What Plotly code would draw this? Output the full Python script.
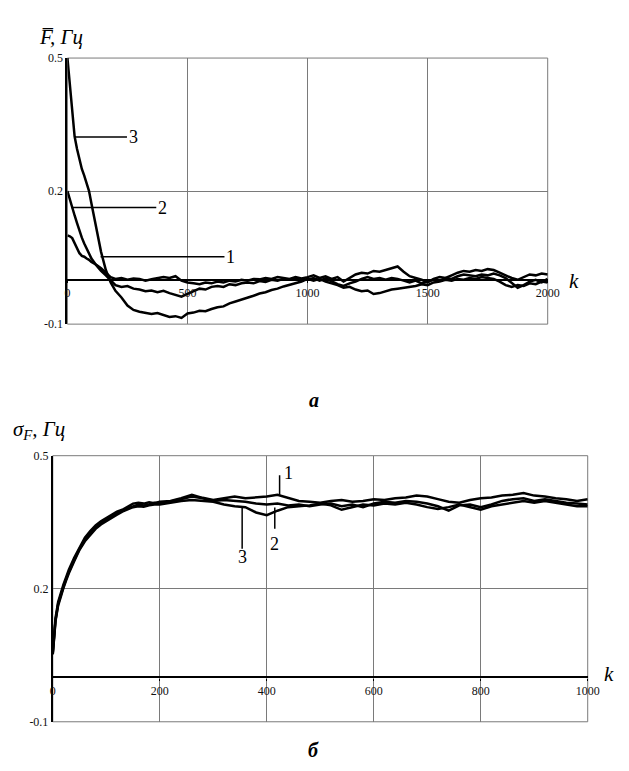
import plotly.graph_objects as go

# ---------------- data: top panel (mean frequency) ----------------
k_top = [0, 10, 20, 30, 40, 50, 60, 70, 80, 90, 100, 120, 140, 160, 180,
         200, 225, 250, 275, 300, 325, 350, 375, 400, 425, 450, 475, 500, 525, 550, 575,
         600, 625, 650, 675, 700, 725, 750, 775, 800, 825, 850, 875, 900, 925, 950, 975,
         1000, 1025, 1050, 1075, 1100, 1125, 1150, 1175, 1200, 1225, 1250, 1275, 1300, 1325,
         1350, 1375, 1400, 1425, 1450, 1475, 1500, 1525, 1550, 1575, 1600, 1625, 1650, 1675,
         1700, 1725, 1750, 1775, 1800, 1825, 1850, 1875, 1900, 1925, 1950, 1975, 2000]

F_mean_1 = [0.100, 0.098, 0.094, 0.082, 0.070, 0.060, 0.054, 0.052, 0.048, 0.045, 0.040, 0.034, 0.026, 0.016, 0.006,
            0.002, 0.004, 0.000, 0.003, 0.002, -0.002, 0.001, 0.003, 0.006, 0.004, 0.008, -0.002, -0.006, -0.008, -0.010, -0.006,
            -0.008, -0.004, -0.006, -0.002, -0.004, 0.000, -0.002, 0.002, 0.001, 0.004, 0.002, 0.006, 0.004, 0.002, 0.006, 0.003,
            0.006, 0.010, 0.004, 0.008, 0.002, 0.006, -0.004, 0.004, 0.012, 0.016, 0.014, 0.020, 0.018, 0.022,
            0.026, 0.030, 0.018, 0.008, 0.004, 0.000, -0.006, 0.002, 0.006, 0.004, 0.010, 0.016, 0.020, 0.018,
            0.022, 0.020, 0.024, 0.022, 0.016, 0.010, 0.004, 0.000, 0.006, 0.012, 0.010, 0.014, 0.012]

F_mean_2 = [0.200, 0.180, 0.160, 0.145, 0.128, 0.110, 0.095, 0.082, 0.070, 0.058, 0.048, 0.033, 0.020, 0.010, 0.000,
            -0.012, -0.016, -0.014, -0.020, -0.022, -0.026, -0.024, -0.028, -0.025, -0.030, -0.034, -0.038, -0.032, -0.026, -0.020, -0.022,
            -0.016, -0.014, -0.016, -0.010, -0.012, -0.008, -0.006, -0.008, -0.003, -0.005, 0.000, -0.002, 0.002, 0.000, 0.004, 0.001,
            0.000, 0.004, -0.002, 0.003, -0.004, -0.010, -0.014, -0.008, -0.004, 0.002, 0.006, 0.002, 0.004, 0.000,
            0.004, 0.002, -0.002, -0.006, -0.002, -0.008, -0.004, 0.000, -0.002, 0.004, 0.002, 0.008, 0.012, 0.010,
            0.008, 0.012, 0.010, 0.014, 0.010, 0.004, -0.008, -0.018, -0.012, -0.004, 0.000, -0.006, 0.002]

F_mean_3 = [0.500, 0.445, 0.380, 0.323, 0.295, 0.270, 0.250, 0.235, 0.218, 0.200, 0.172, 0.118, 0.063, 0.022, -0.006,
            -0.025, -0.040, -0.058, -0.068, -0.072, -0.074, -0.077, -0.075, -0.080, -0.084, -0.082, -0.086, -0.076, -0.074, -0.070, -0.071,
            -0.066, -0.062, -0.060, -0.053, -0.049, -0.045, -0.040, -0.036, -0.031, -0.028, -0.023, -0.020, -0.015, -0.011, -0.007, -0.004,
            0.002, -0.002, 0.002, -0.004, -0.008, -0.012, -0.018, -0.016, -0.022, -0.026, -0.024, -0.032, -0.030, -0.026,
            -0.022, -0.020, -0.018, -0.016, -0.014, -0.010, -0.012, -0.006, -0.004, 0.000, -0.002, 0.002, 0.000, 0.004,
            0.002, 0.006, 0.004, 0.002, -0.004, -0.012, -0.016, -0.012, -0.014, -0.008, -0.010, -0.004, -0.006]

# ---------------- data: bottom panel (std of frequency) ----------------
k_bot = [0, 2, 5, 10, 15, 20, 25, 30,
         40, 50, 60, 70, 80, 90, 100, 110, 120, 130, 140, 150, 160, 170, 180, 190, 200,
         220, 240, 260, 280, 300, 320, 340, 360, 380, 400, 420, 440, 460, 480, 500, 520, 540, 560, 580, 600,
         620, 640, 660, 680, 700, 720, 740, 760, 780, 800, 820, 840, 860, 880, 900, 920, 940, 960, 980, 1000]

S_1 = [0.057, 0.098, 0.133, 0.170, 0.193, 0.210, 0.226, 0.243,
       0.270, 0.294, 0.315, 0.330, 0.343, 0.352, 0.360, 0.368, 0.374, 0.378, 0.386, 0.392, 0.394, 0.392, 0.395, 0.393, 0.396,
       0.398, 0.404, 0.412, 0.405, 0.400, 0.404, 0.408, 0.404, 0.406, 0.408, 0.412, 0.405, 0.398, 0.396, 0.394, 0.398, 0.400, 0.396, 0.398, 0.402,
       0.400, 0.404, 0.406, 0.410, 0.408, 0.402, 0.396, 0.394, 0.400, 0.404, 0.406, 0.410, 0.412, 0.416, 0.410, 0.408, 0.404, 0.402, 0.398, 0.402]

S_2 = [0.055, 0.093, 0.128, 0.166, 0.188, 0.205, 0.222, 0.238,
       0.265, 0.290, 0.310, 0.326, 0.337, 0.348, 0.356, 0.363, 0.370, 0.376, 0.381, 0.386, 0.390, 0.388, 0.390, 0.394, 0.392,
       0.396, 0.402, 0.408, 0.404, 0.398, 0.400, 0.398, 0.396, 0.392, 0.390, 0.392, 0.388, 0.390, 0.386, 0.390, 0.392, 0.386, 0.390, 0.384, 0.392,
       0.396, 0.394, 0.398, 0.396, 0.392, 0.386, 0.376, 0.388, 0.390, 0.384, 0.390, 0.398, 0.402, 0.404, 0.398, 0.402, 0.398, 0.394, 0.392, 0.390]

S_3 = [0.052, 0.090, 0.126, 0.162, 0.185, 0.202, 0.219, 0.235,
       0.262, 0.288, 0.307, 0.322, 0.335, 0.345, 0.353, 0.361, 0.367, 0.374, 0.379, 0.384, 0.386, 0.385, 0.388, 0.390, 0.390,
       0.394, 0.398, 0.400, 0.398, 0.396, 0.390, 0.386, 0.384, 0.372, 0.366, 0.376, 0.384, 0.386, 0.388, 0.392, 0.388, 0.378, 0.384, 0.390, 0.388,
       0.392, 0.390, 0.394, 0.390, 0.384, 0.380, 0.384, 0.390, 0.384, 0.378, 0.386, 0.390, 0.394, 0.398, 0.394, 0.398, 0.394, 0.390, 0.386, 0.386]

# ---------------- ticks / labels ----------------
top_x_ticks = [0, 500, 1000, 1500, 2000]
bot_x_ticks = [0, 200, 400, 600, 800, 1000]
y_ticks = [-0.1, 0.2, 0.5]
y_tick_text = ["-0.1", "0.2", "0.5"]
curve_labels = ["1", "2", "3"]

# leader-line anchors (data coords) for the curve numbers
top_leaders = [  # (k_start, k_end, value)
    (138, 654, 0.052),
    (16, 370, 0.163),
    (28, 248, 0.322),
]
bot_leaders = [  # (k, v_start, v_end, v_text)
    (424, 0.412, 0.456, 0.462),
    (415, 0.383, 0.335, 0.302),
    (354, 0.386, 0.290, 0.272),
]

W, H = 629, 771
GRID = "#7a7a7a"
SERIF = "Liberation Serif"

fig = go.Figure()
for ys in (F_mean_1, F_mean_2, F_mean_3):
    fig.add_trace(go.Scatter(x=k_top, y=ys, mode="lines", xaxis="x", yaxis="y",
                             line=dict(color="black", width=2.5), hoverinfo="skip"))
for ys in (S_1, S_2, S_3):
    fig.add_trace(go.Scatter(x=k_bot, y=ys, mode="lines", xaxis="x2", yaxis="y2",
                             line=dict(color="black", width=2.5), hoverinfo="skip"))
# empty traces so the tick-label axes placed on the zero lines get subplots
fig.add_trace(go.Scatter(x=[], y=[], xaxis="x3", yaxis="y", hoverinfo="skip"))
fig.add_trace(go.Scatter(x=[], y=[], xaxis="x4", yaxis="y2", hoverinfo="skip"))

def px_x(p):
    return p / W

def px_y(p):
    return 1 - p / H

tickfont = dict(family=SERIF, size=12, color="#111111")

common_x = dict(showticklabels=False, showgrid=True, gridcolor=GRID, gridwidth=1,
                zeroline=False, showline=False, ticks="", fixedrange=True)
common_y = dict(tickmode="array", tickvals=y_ticks, ticktext=y_tick_text, range=[-0.1, 0.5],
                showgrid=True, gridcolor=GRID, gridwidth=1, zeroline=True, zerolinecolor="black",
                zerolinewidth=2, showline=True, linecolor="black", linewidth=2, ticks="",
                tickfont=tickfont, fixedrange=True)

fig.update_layout(
    width=W, height=H, margin=dict(l=0, r=0, t=0, b=0),
    paper_bgcolor="white", plot_bgcolor="white", showlegend=False,
    xaxis=dict(domain=[px_x(66), px_x(558)], range=[0, 2000], tickmode="array",
               tickvals=top_x_ticks, anchor="y", **common_x),
    yaxis=dict(domain=[px_y(323), px_y(52)], anchor="x", **common_y),
    xaxis2=dict(domain=[px_x(51), px_x(599)], range=[0, 1000], tickmode="array",
                tickvals=bot_x_ticks, anchor="y2", **common_x),
    yaxis2=dict(domain=[px_y(728), px_y(457)], anchor="x2", **common_y),
    xaxis3=dict(overlaying="x", anchor="free", position=px_y(277.7), range=[0, 2000],
                tickmode="array", tickvals=top_x_ticks, showgrid=False, zeroline=False,
                showline=False, ticks="outside", ticklen=2, tickcolor="black",
                tickfont=tickfont, fixedrange=True),
    xaxis4=dict(overlaying="x2", anchor="free", position=px_y(683), range=[0, 1000],
                tickmode="array", tickvals=bot_x_ticks, showgrid=False, zeroline=False,
                showline=False, ticks="outside", ticklen=2, tickcolor="black",
                tickfont=tickfont, fixedrange=True),
)

shapes = []
for xr, yr in (("x", "y"), ("x2", "y2")):
    shapes.append(dict(type="rect", xref=f"{xr} domain", yref=f"{yr} domain",
                       x0=0, x1=1, y0=0, y1=1, line=dict(color=GRID, width=1), layer="below"))
for (k0, k1, v) in top_leaders:
    shapes.append(dict(type="line", xref="x", yref="y", x0=k0, x1=k1, y0=v, y1=v,
                       line=dict(color="black", width=1.5)))
for (k, v0, v1, vt) in bot_leaders:
    shapes.append(dict(type="line", xref="x2", yref="y2", x0=k, x1=k, y0=v0, y1=v1,
                       line=dict(color="black", width=1.5)))
fig.update_layout(shapes=shapes)

lab_font = dict(family=SERIF, size=18, color="black")
ann = []
for lab, (k0, k1, v) in zip(curve_labels, top_leaders):
    ann.append(dict(x=k1, y=v, xref="x", yref="y", text=lab, showarrow=False,
                    xanchor="left", yanchor="middle", xshift=0, font=lab_font))
for lab, (k, v0, v1, vt) in zip(curve_labels, bot_leaders):
    if lab == "1":
        ann.append(dict(x=k, y=vt, xref="x2", yref="y2", text=lab, showarrow=False,
                        xanchor="left", yanchor="middle", xshift=2, font=lab_font))
    else:
        ann.append(dict(x=k, y=vt, xref="x2", yref="y2", text=lab, showarrow=False,
                        xanchor="center", yanchor="middle", font=lab_font))

# axis titles and panel letters
ann.append(dict(x=px_x(35), y=px_y(31), xref="paper", yref="paper", showarrow=False,
                xanchor="left", yanchor="middle",
                text="<i>F\u0305, Гц</i>", font=dict(family=SERIF, size=21, color="black")))
ann.append(dict(x=px_x(8), y=px_y(431), xref="paper", yref="paper", showarrow=False,
                xanchor="left", yanchor="middle",
                text="<i>σ<sub>F</sub>, Гц</i>", font=dict(family=SERIF, size=21, color="black")))
ann.append(dict(x=px_x(578), y=px_y(279), xref="paper", yref="paper", showarrow=False,
                xanchor="left", yanchor="middle", text="<i>k</i>",
                font=dict(family=SERIF, size=21, color="black")))
ann.append(dict(x=px_x(614), y=px_y(679), xref="paper", yref="paper", showarrow=False,
                xanchor="left", yanchor="middle", text="<i>k</i>",
                font=dict(family=SERIF, size=21, color="black")))
ann.append(dict(x=px_x(319), y=px_y(400), xref="paper", yref="paper", showarrow=False,
                xanchor="center", yanchor="middle", text="<b><i>а</i></b>",
                font=dict(family=SERIF, size=20, color="black")))
ann.append(dict(x=px_x(318), y=px_y(757), xref="paper", yref="paper", showarrow=False,
                xanchor="center", yanchor="middle", text="<b><i>б</i></b>",
                font=dict(family=SERIF, size=20, color="black")))
fig.update_layout(annotations=ann)

fig.write_html("out.html")
